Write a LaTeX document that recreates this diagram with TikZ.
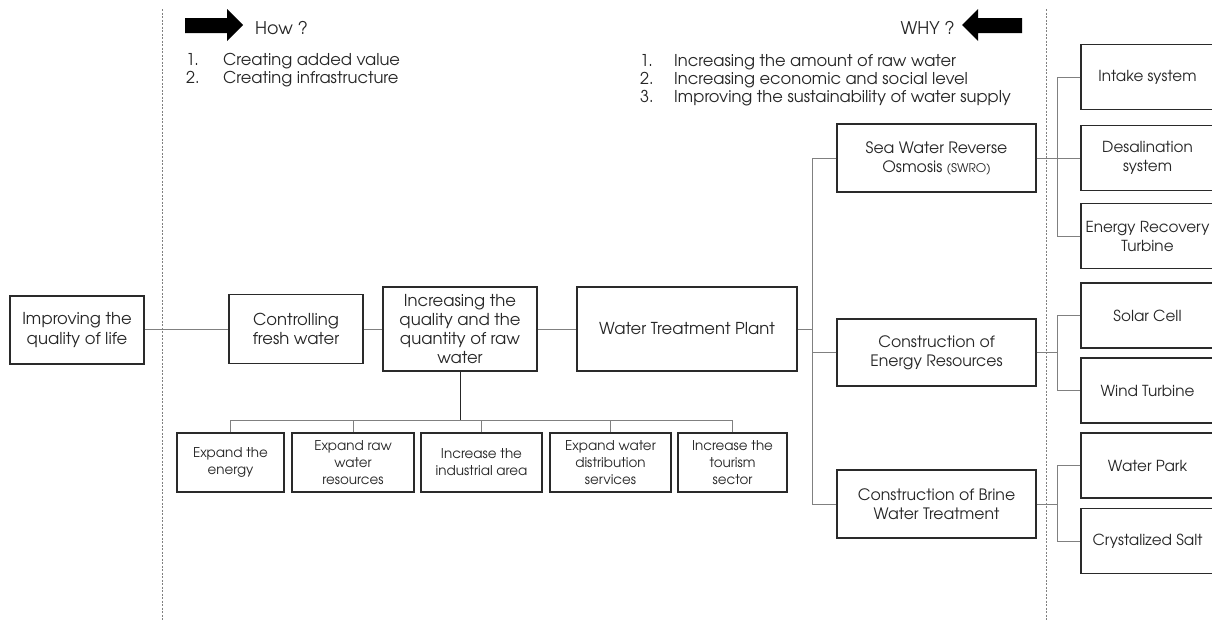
\documentclass[tikz,border=0pt]{standalone}
\usepackage{fontspec}
\setmainfont{TeX Gyre Adventor}
\definecolor{txt}{HTML}{262626}
\definecolor{boxc}{HTML}{2a2a2a}
\definecolor{linec}{HTML}{808080}
\begin{document}
\begin{tikzpicture}[x=1pt,y=-1pt,
  box/.style={draw=boxc, line width=1.3pt, text=txt, align=center, inner sep=2pt, font=\fontsize{16.4}{19.3}\selectfont},
  rbox/.style={box, minimum width=133pt, minimum height=65pt, font=\fontsize{15.2}{19}\selectfont},
  sbox/.style={box, minimum height=59pt, font=\fontsize{13.5}{17}\selectfont},
  conn/.style={draw=linec, line width=0.9pt},
  stem/.style={draw=black!85, line width=0.9pt},
  sepline/.style={draw=gray, line width=0.7pt, dash pattern=on 2pt off 1.5pt},
  lst/.style={text=txt, anchor=base west, inner sep=0pt, font=\fontsize{16.3}{18}\selectfont},
  hw/.style={text=txt, inner sep=0pt, font=\fontsize{17.5}{20}\selectfont},
  blk/.style={fill=black}]
\fill[white, use as bounding box] (0,0) rectangle (1212,621);
\clip (0,0) rectangle (1212,621);

% separators
\coordinate (s1t) at (162,9); \coordinate (s1b) at (162,621);
\coordinate (s2t) at (1046,9); \coordinate (s2b) at (1046,621);
\draw[sepline] (s1t) -- (s1b);
\draw[sepline] (s2t) -- (s2b);

% header arrows
\fill[blk] (185,18) -- (227,18) -- (227,9) -- (243,25) -- (227,41) -- (227,33) -- (185,33) -- cycle;
\node[hw, anchor=base west] (how) at (255,34) {How ?};
\fill[blk] (1022,18) -- (978,18) -- (978,9) -- (962,25) -- (978,41) -- (978,33) -- (1022,33) -- cycle;
\node[hw, anchor=base east] (why) at (955,34) {WHY ?};

% lists
\node[lst] (h1n) at (186,65) {1.};
\node[lst] (h1) at (223,65) {Creating added value};
\node[lst] (h2n) at (186,83) {2.};
\node[lst] (h2) at (223,83) {Creating infrastructure};
\node[lst] (w1n) at (640,66) {1.};
\node[lst] (w1) at (674,66) {Increasing the amount of raw water};
\node[lst] (w2n) at (640,84) {2.};
\node[lst] (w2) at (674,84) {Increasing economic and social level};
\node[lst] (w3n) at (640,102) {3.};
\node[lst] (w3) at (674,102) {Improving the sustainability of water supply};

% main chain
\node[box, minimum width=134pt, minimum height=68pt] (life) at (77,330) {Improving the\\quality of life};
\node[box, minimum width=134pt, minimum height=69pt] (fresh) at (296,329) {Controlling\\fresh water};
\node[box, minimum width=154pt, minimum height=84pt] (incr) at (460,329) {Increasing the\\quality and the\\quantity of raw\\water};
\node[box, minimum width=220pt, minimum height=84pt] (wtp) at (687,329) {Water Treatment Plant};

\node[box, minimum width=199pt, minimum height=68pt, font=\fontsize{15.7}{19}\selectfont] (swro) at (936.5,158) {Sea Water Reverse\\Osmosis {\fontsize{12}{14}\selectfont (SWRO)}};
\node[box, minimum width=199pt, minimum height=67pt, font=\fontsize{15.7}{19}\selectfont] (energy) at (936.5,352.5) {Construction of\\Energy Resources};
\node[box, minimum width=199pt, minimum height=68pt, font=\fontsize{15.7}{19}\selectfont] (brine) at (936.5,504) {Construction of Brine\\Water Treatment};

% right column
\node[rbox] (intake) at (1147.5,77) {Intake system};
\node[rbox] (desal) at (1147.5,158) {Desalination\\system};
\node[rbox] (er) at (1147.5,236) {Energy Recovery\\Turbine};
\node[rbox] (solar) at (1147.5,315.5) {Solar Cell};
\node[rbox] (wind) at (1147.5,390.5) {Wind Turbine};
\node[rbox] (park) at (1147.5,465.5) {Water Park};
\node[rbox] (salt) at (1147.5,541) {Crystalized Salt};

% bottom row
\node[sbox, minimum width=107pt] (b1) at (230.5,462.5) {Expand the\\energy};
\node[sbox, minimum width=122pt] (b2) at (353,462.5) {Expand raw\\water\\resources};
\node[sbox, minimum width=121pt] (b3) at (481.5,462.5) {Increase the\\industrial area};
\node[sbox, minimum width=121pt] (b4) at (610.5,462.5) {Expand water\\distribution\\services};
\node[sbox, minimum width=109pt] (b5) at (732.5,462.5) {Increase the\\tourism\\sector};

% connectors main chain
\draw[conn] (life.east |- fresh.west) -- (fresh.west);
\draw[conn] (fresh.east) -- (incr.west |- fresh.east);
\draw[conn] (incr.east) -- (wtp.west);

% trunk
\coordinate (tr) at (812,0);
\draw[conn] (swro.west) -- (swro.west -| tr) -- (brine.west -| tr) -- (brine.west);
\draw[conn] (energy.west) -- (energy.west -| tr);
\draw[conn] (wtp.east) -- (wtp.east -| tr);

% right branches
\coordinate (br) at (1057,0);
\draw[conn] (swro.east) -- (desal.west);
\draw[conn] (intake.west) -- (intake.west -| br) -- (er.west -| br) -- (er.west);
\draw[conn] (energy.east) -- (energy.east -| br);
\draw[conn] (solar.west) -- (solar.west -| br) -- (wind.west -| br) -- (wind.west);
\draw[conn] (brine.east) -- (brine.east -| br);
\draw[conn] (park.west) -- (park.west -| br) -- (salt.west -| br) -- (salt.west);

% bottom tree
\coordinate (hb) at (460,420);
\draw[stem] (incr.south) -- (hb);
\draw[conn] (b1.north |- hb) -- (b5.north |- hb);
\foreach \b in {b1,b2,b3,b4,b5} \draw[conn] (\b.north) -- (\b.north |- hb);
\end{tikzpicture}
\end{document}
